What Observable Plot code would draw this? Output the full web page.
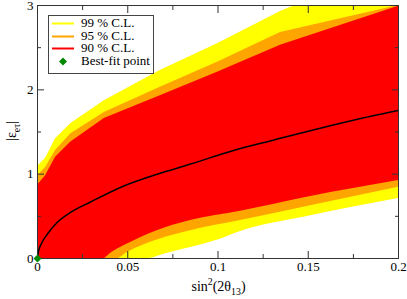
<!DOCTYPE html>
<html><head><meta charset="utf-8">
<script src="https://cdn.jsdelivr.net/npm/d3@7"></script>
<script src="https://cdn.jsdelivr.net/npm/@observablehq/plot@0.6"></script>
<style>
body{margin:0;background:#fff;}
#wrap{position:relative;width:407px;height:299px;font-family:"Liberation Serif","DejaVu Serif","Noto Serif",serif;color:#000;}
#wrap svg.plot{position:absolute;left:0;top:0;}
#legend{position:absolute;left:48px;top:15px;width:104px;height:56px;border:1px solid #444;background:#fff;padding-top:1px;box-sizing:content-box;}
#legend .row{height:12.7px;line-height:12.7px;font-size:13px;white-space:nowrap;position:relative;}
#legend .row svg{position:absolute;left:3px;top:0;}
#legend .row span{position:absolute;left:32px;top:0;line-height:12.7px;}
#xlabel{position:absolute;left:0;width:437px;text-align:center;top:279px;font-size:14px;line-height:16px;}
#ylabel{position:absolute;left:12px;top:131px;font-size:14px;line-height:16px;transform:translate(-50%,-50%) rotate(-90deg);white-space:nowrap;}
sub,sup{font-size:70%;line-height:0;}
</style></head><body><div id="wrap"></div>
<script>
// ---- data ----
const upperX  = [0, 0.0045, 0.01, 0.0185, 0.037, 0.068, 0.1, 0.1346, 0.2];
const upper99 = [1.09, 1.19, 1.42, 1.60, 1.87, 2.23, 2.55, 2.93, 3.50];
const upper95 = [0.98, 1.08, 1.28, 1.48, 1.73, 2.03, 2.33, 2.68, 3.00];
const upper90 = [0.87, 0.98, 1.20, 1.38, 1.66, 1.93, 2.21, 2.53, 2.99];

const lower90X = [0, 0.0367, 0.0404, 0.0478, 0.0663, 0.0848, 0.1125, 0.15, 0.2];
const lower90  = [0, 0, 0.06, 0.15, 0.33, 0.45, 0.56, 0.73, 0.925];
const lower95X = [0, 0.0441, 0.05, 0.0663, 0.0848, 0.1125, 0.15, 0.2];
const lower95  = [0, 0, 0.075, 0.22, 0.33, 0.45, 0.62, 0.845];
const lower99X = [0, 0.0617, 0.07, 0.0848, 0.1, 0.1125, 0.15, 0.2];
const lower99  = [0, 0, 0.05, 0.13, 0.22, 0.32, 0.50, 0.71];

const fitX = [0, 0.0005, 0.0018, 0.0055, 0.011, 0.0185, 0.0294, 0.0478, 0.0663, 0.0848, 0.1086, 0.13, 0.15, 0.175, 0.2];
const fitY = [0, 0.08, 0.16, 0.29, 0.43, 0.55, 0.67, 0.86, 1.00, 1.12, 1.28, 1.40, 1.51, 1.64, 1.755];

const bestX = [0];
const bestY = [0];

const xTickValues = [0, 0.05, 0.1, 0.15, 0.2];
const xTickLabels = ["0", "0.05", "0.1", "0.15", "0.2"];
const xMinorTicks = [0.025, 0.075, 0.125, 0.175];
const yTickValues = [0, 1, 2, 3];
const yTickLabels = ["0", "1", "2", "3"];
const yMinorTicks = [0.5, 1.5, 2.5];

const legendLabels = ["99 % C.L.", "95 % C.L.", "90 % C.L.", "Best-fit point"];
const legendColors = ["#ffff00", "#ffa500", "#ff0000", "#008800"];

// ---- build ----
const zip = (xs, ys) => xs.map((x, i) => ({x, y: ys[i]}));
const yellow = "#ffff00", orange = "#ffa500", red = "#ff0000";
const axisColor = "#333";

const chart = Plot.plot({
  width: 407, height: 299,
  marginLeft: 37, marginRight: 9, marginTop: 5, marginBottom: 41,
  x: {domain: [0, 0.2]},
  y: {domain: [0, 3]},
  style: {fontFamily: "'Liberation Serif', 'DejaVu Serif', 'Noto Serif', serif", fontSize: "13px", background: "transparent", color: "#000"},
  marks: [
    Plot.areaY(zip(upperX, upper99), {x: "x", y: "y", fill: yellow, clip: true}),
    Plot.areaY(zip(upperX, upper95), {x: "x", y: "y", fill: orange, clip: true}),
    Plot.areaY(zip(upperX, upper90), {x: "x", y: "y", fill: red, clip: true}),
    Plot.areaY(zip(lower90X, lower90), {x: "x", y: "y", fill: orange, curve: "monotone-x", clip: true}),
    Plot.areaY(zip(lower95X, lower95), {x: "x", y: "y", fill: yellow, curve: "monotone-x", clip: true}),
    Plot.areaY(zip(lower99X, lower99), {x: "x", y: "y", fill: "#ffffff", curve: "monotone-x", clip: true}),
    Plot.line(zip(fitX, fitY), {x: "x", y: "y", stroke: "#000", strokeWidth: 1.5, curve: "monotone-x", clip: true}),
    Plot.frame({stroke: axisColor, strokeWidth: 1}),
    // major ticks (inward) with labels
    Plot.axisX({anchor: "bottom", ticks: xTickValues, tickSize: 7, dy: -7, tickPadding: 3, tickFormat: (d, i) => xTickLabels[i], stroke: axisColor, label: null}),
    Plot.axisY({anchor: "left", ticks: yTickValues, tickSize: 7, dx: 7, tickPadding: 4, tickFormat: (d, i) => yTickLabels[i], stroke: axisColor, label: null}),
    Plot.axisX({anchor: "top", ticks: xTickValues, tickSize: 7, dy: 7, fill: "none", stroke: axisColor, label: null}),
    Plot.axisY({anchor: "right", ticks: yTickValues, tickSize: 7, dx: -7, fill: "none", stroke: axisColor, label: null}),
    // minor ticks
    Plot.axisX({anchor: "bottom", ticks: xMinorTicks, tickSize: 4, dy: -4, fill: "none", stroke: axisColor, label: null}),
    Plot.axisX({anchor: "top", ticks: xMinorTicks, tickSize: 4, dy: 4, fill: "none", stroke: axisColor, label: null}),
    Plot.axisY({anchor: "left", ticks: yMinorTicks, tickSize: 4, dx: 4, fill: "none", stroke: axisColor, label: null}),
    Plot.axisY({anchor: "right", ticks: yMinorTicks, tickSize: 4, dx: -4, fill: "none", stroke: axisColor, label: null}),
    Plot.dot(zip(bestX, bestY), {x: "x", y: "y", symbol: "diamond2", r: 3.6, fill: "#008800", stroke: "none"})
  ]
});
chart.classList.add("plot");
const wrap = document.getElementById("wrap");
wrap.appendChild(chart);

// legend
const legend = document.createElement("div");
legend.id = "legend";
legendLabels.forEach((lab, i) => {
  const row = document.createElement("div");
  row.className = "row";
  const sw = i < 3
    ? `<svg width="22" height="13"><line x1="0" x2="22" y1="6.5" y2="6.5" stroke="${legendColors[i]}" stroke-width="2"/></svg>`
    : `<svg width="22" height="13"><path d="M11,2.5 L15,6.5 L11,10.5 L7,6.5 Z" fill="${legendColors[i]}"/></svg>`;
  row.innerHTML = sw + `<span>${lab}</span>`;
  legend.appendChild(row);
});
wrap.appendChild(legend);

const xl = document.createElement("div");
xl.id = "xlabel";
xl.innerHTML = "sin<sup>2</sup>(2θ<sub>13</sub>)";
wrap.appendChild(xl);
const yl = document.createElement("div");
yl.id = "ylabel";
yl.innerHTML = "|ε<sub>eτ</sub>|";
wrap.appendChild(yl);
</script>
</body></html>
